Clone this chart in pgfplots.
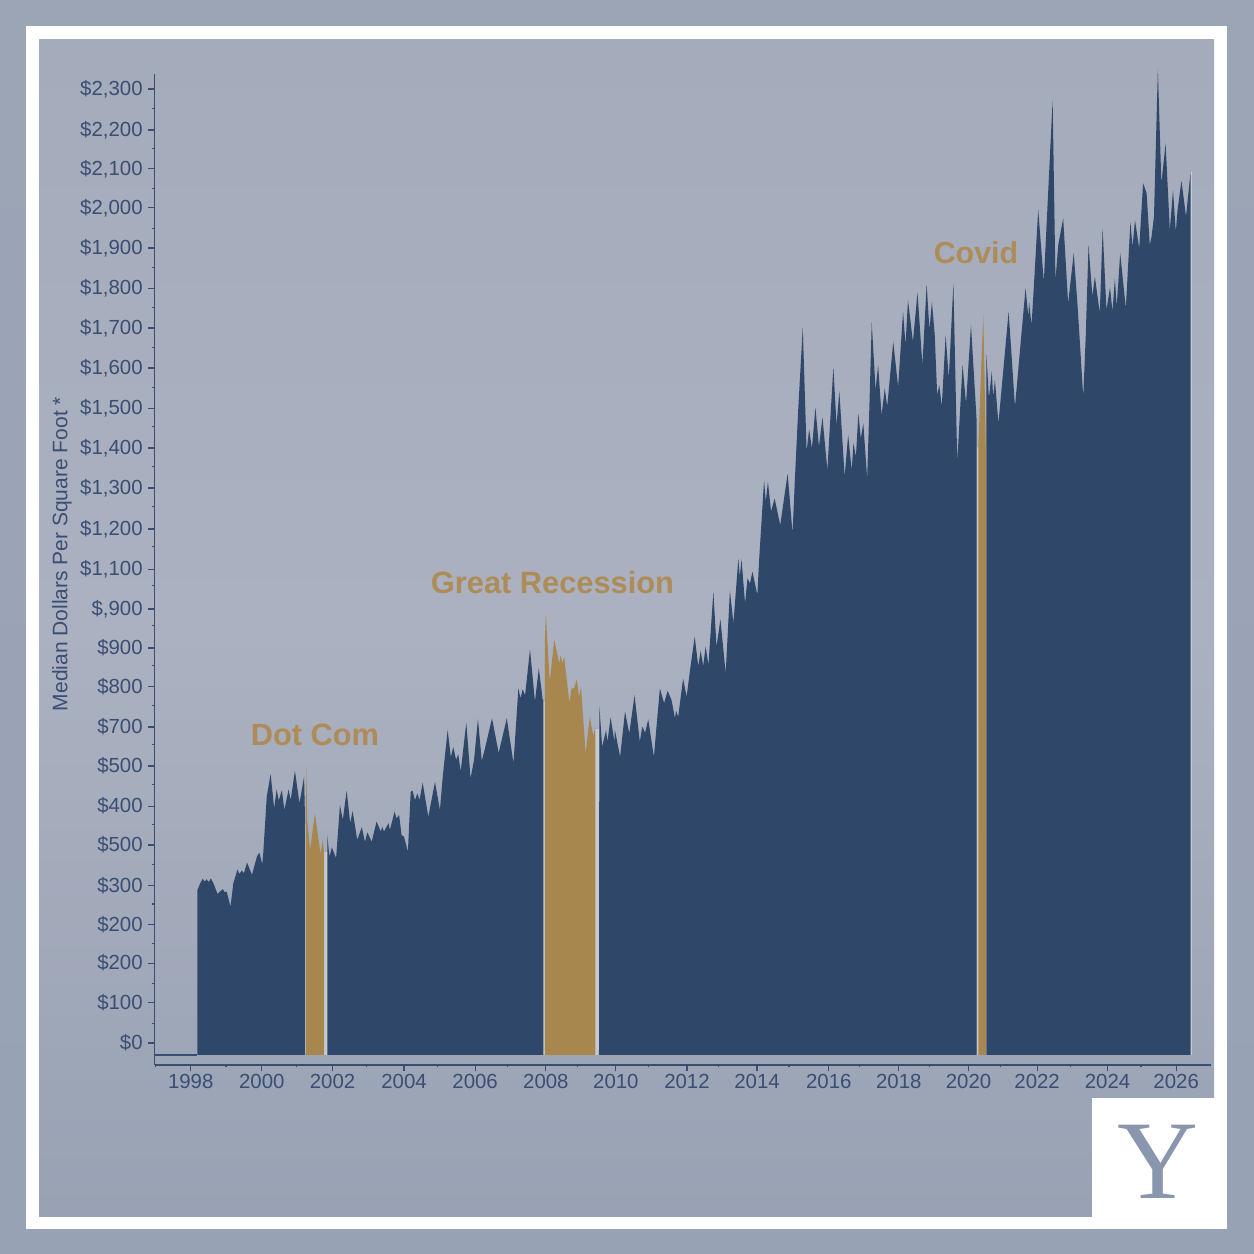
\documentclass[border=0pt]{standalone}
\usepackage{fontspec}
\setmainfont{Liberation Sans}
\newfontfamily\serifY{Liberation Serif}
\usepackage{pgfplots}
\pgfplotsset{compat=1.18}
\definecolor{navyc}{HTML}{2F4769}
\definecolor{goldc}{HTML}{A8874F}
\definecolor{annot}{HTML}{AE8C58}
\definecolor{txtc}{HTML}{3A4E73}
\definecolor{sliver}{HTML}{C6CAD2}
\definecolor{outerA}{HTML}{9CA5B6}
\definecolor{outerB}{HTML}{97A2B5}
\definecolor{panelA}{HTML}{A4ABBA}
\definecolor{panelB}{HTML}{ABB1C0}
\definecolor{panelC}{HTML}{98A2B4}
\definecolor{logoc}{HTML}{8A96AD}
\begin{document}
\begin{tikzpicture}
\begin{scope}[x=0.5pt,y=-0.5pt]
\path[use as bounding box] (0,0) rectangle (1254,1254);
\shade[top color=outerA,bottom color=outerB] (0,0) rectangle (1254,1254);
\fill[white] (26,26) rectangle (1227,1229);
\shade[top color=panelA,bottom color=panelC,middle color=panelB] (39,39) rectangle (1214,1216);
\fill[white] (1091.7,1098) rectangle (1227,1229);
\end{scope}
\begin{axis}[
  at={(77.25pt,-532.5pt)},anchor=south west,
  scale only axis,width=528.25pt,height=495.5pt,
  xmin=1996.97,xmax=2026.99,ymin=-55.3,ymax=2437.7,
  axis lines=left,axis line style={-,txtc,line width=0.75pt},
  clip=false,
  tick align=outside,
  tick style={txtc,line width=0.6pt},
  major tick length=3.2pt,minor tick length=1.2pt,
  xtick={1998,2000.02,2002.03,2004.06,2006.08,2008.09,2010.08,2012.10,2014.09,2016.13,2018.12,2020.10,2022.05,2024.05,2026},
  xticklabels={1998,2000,2002,2004,2006,2008,2010,2012,2014,2016,2018,2020,2022,2024,2026},
  minor xtick={1997,1999,2001,2003,2005,2007,2009,2011,2013,2015,2017,2019,2021,2023,2025},
  ytick={0,101,201,299,397,498,596,697,795,896,994,1092,1192,1293,1396,1497,1597,1698,1799,1899,2000,2101,2199,2297,2400},
  yticklabels={\$0,\$100,\$200,\$200,\$300,\$500,\$400,\$500,\$700,\$800,\$900,{\$,900},{\$1,100},{\$1,200},{\$1,300},{\$1,400},{\$1,500},{\$1,600},{\$1,700},{\$1,800},{\$1,900},{\$2,000},{\$2,100},{\$2,200},{\$2,300}},
  minor ytick={50,150,...,2350},
  tick label style={font=\fontsize{10.2}{12}\selectfont,text=txtc},
  yticklabel style={xshift=0.8pt},
  xticklabel style={yshift=2pt},
  ylabel={Median Dollars Per Square Foot *},
  ylabel style={at={(rel axis cs:-0.0875,0.5156)},anchor=center,rotate=0,font=\fontsize{10.5}{12}\selectfont,text=txtc},
]
% pale slivers beside the shaded bands
\addplot[fill=sliver,draw=none] coordinates {(2001.22,-30)(2001.22,550)(2001.29,550)(2001.29,-30)} --cycle;
\addplot[fill=sliver,draw=none] coordinates {(2001.78,-30)(2001.78,480)(2001.89,480)(2001.89,-30)} --cycle;
\addplot[fill=sliver,draw=none] coordinates {(2008.00,-30)(2008.00,860)(2008.07,860)(2008.07,-30)} --cycle;
\addplot[fill=sliver,draw=none] coordinates {(2009.49,-30)(2009.49,790)(2009.61,790)(2009.61,-30)} --cycle;
\addplot[fill=sliver,draw=none] coordinates {(2020.33,-30)(2020.33,1500)(2020.62,1500)(2020.62,-30)} --cycle;
\addplot[fill=sliver,draw=none] coordinates {(2026.40,-30)(2026.40,2190)(2026.46,2190)(2026.46,-30)} --cycle;
% baseline before the series
\addplot[txtc,line width=0.6pt] coordinates {(1996.97,-30)(1998.19,-30)};
% series, 1998 - 2001
\addplot[fill=navyc,draw=none] coordinates {
(1998.19,-30)(1998.19,385)(1998.27,402)(1998.34,413)(1998.40,406)(1998.45,412)(1998.51,405)(1998.57,414)(1998.64,403)
(1998.76,375)(1998.83,381)(1998.91,387)(1998.97,379)(1999.02,381)(1999.13,343)(1999.21,402)(1999.33,437)(1999.38,425)
(1999.45,434)(1999.51,427)(1999.60,454)(1999.74,423)(1999.88,469)(1999.95,479)(2000.03,450)(2000.06,477)(2000.16,620)
(2000.27,677)(2000.37,590)(2000.44,638)(2000.50,610)(2000.59,636)(2000.66,586)(2000.78,638)(2000.84,611)(2000.96,685)
(2001.09,603)(2001.22,670)(2001.25,553)(2001.25,-30)} --cycle;
% Dot Com
\addplot[fill=goldc,draw=none] coordinates {
(2001.27,-30)(2001.27,600)(2001.28,699)(2001.31,561)(2001.39,486)(2001.53,578)(2001.63,511)(2001.69,477)(2001.75,511)(2001.79,477)(2001.79,-30)} --cycle;
% series, 2001 - 2008
\addplot[fill=navyc,draw=none] coordinates {
(2001.88,-30)(2001.88,523)(2001.94,469)(2002.01,492)(2002.13,465)(2002.24,599)(2002.32,561)(2002.43,635)(2002.53,553)
(2002.60,584)(2002.73,511)(2002.86,543)(2002.95,506)(2003.02,530)(2003.14,506)(2003.28,557)(2003.40,532)(2003.44,544)
(2003.49,532)(2003.62,553)(2003.66,536)(2003.79,582)(2003.85,565)(2003.92,574)(2003.99,523)(2004.06,519)(2004.17,481)
(2004.25,632)(2004.30,635)(2004.37,611)(2004.44,628)(2004.50,611)(2004.59,655)(2004.75,569)(2004.94,657)(2005.08,586)
(2005.16,670)(2005.30,787)(2005.39,720)(2005.46,744)(2005.54,712)(2005.60,727)(2005.67,683)(2005.83,806)(2005.95,666)
(2006.05,712)(2006.16,815)(2006.27,710)(2006.36,741)(2006.56,817)(2006.75,730)(2006.98,817)(2007.17,704)(2007.31,892)
(2007.37,867)(2007.43,890)(2007.50,875)(2007.64,990)(2007.78,859)(2007.89,943)(2008.00,863)(2008.02,863)(2008.02,-30)} --cycle;
% Great Recession
\addplot[fill=goldc,draw=none] coordinates {
(2008.06,-30)(2008.06,1005)(2008.09,1079)(2008.20,909)(2008.33,1014)(2008.47,955)(2008.51,976)(2008.56,955)(2008.61,972)
(2008.76,855)(2008.82,892)(2008.89,892)(2008.97,915)(2009.03,871)(2009.09,895)(2009.22,729)(2009.34,821)(2009.44,771)
(2009.50,796)(2009.50,-30)} --cycle;
% series, 2009 - 2020
\addplot[fill=navyc,draw=none] coordinates {
(2009.60,-30)(2009.61,848)(2009.69,745)(2009.80,787)(2009.84,758)(2009.93,819)(2010.04,758)(2010.05,789)(2010.20,720)
(2010.34,834)(2010.46,779)(2010.61,875)(2010.76,758)(2010.83,796)(2010.91,781)(2011.00,814)(2011.16,720)(2011.33,892)
(2011.45,855)(2011.55,886)(2011.66,863)(2011.76,817)(2011.79,836)(2011.85,821)(2011.99,917)(2012.09,871)(2012.20,947)
(2012.32,1022)(2012.42,948)(2012.49,987)(2012.56,948)(2012.63,997)(2012.71,951)(2012.85,1135)(2012.94,997)(2013.05,1066)
(2013.20,930)(2013.32,1138)(2013.42,1056)(2013.56,1219)(2013.60,1173)(2013.65,1217)(2013.75,1106)(2013.82,1169)(2013.89,1156)
(2013.96,1186)(2014.10,1127)(2014.15,1215)(2014.29,1415)(2014.34,1362)(2014.40,1412)(2014.49,1337)(2014.59,1370)(2014.75,1303)
(2014.96,1433)(2015.10,1282)(2015.17,1425)(2015.26,1592)(2015.39,1800)(2015.50,1488)(2015.57,1544)(2015.65,1496)(2015.75,1599)
(2015.85,1500)(2015.95,1574)(2016.09,1441)(2016.16,1551)(2016.26,1700)(2016.35,1555)(2016.43,1640)(2016.58,1425)(2016.68,1530)
(2016.78,1441)(2016.83,1509)(2016.90,1475)(2016.97,1584)(2017.04,1521)(2017.11,1559)(2017.22,1421)(2017.28,1592)(2017.35,1812)
(2017.46,1643)(2017.53,1706)(2017.63,1580)(2017.72,1647)(2017.79,1601)(2017.96,1764)(2018.10,1651)(2018.24,1840)(2018.31,1756)
(2018.38,1869)(2018.52,1764)(2018.65,1888)(2018.79,1706)(2018.91,1909)(2018.99,1794)(2019.06,1865)(2019.14,1781)(2019.21,1630)
(2019.27,1655)(2019.34,1601)(2019.45,1781)(2019.54,1672)(2019.67,1911)(2019.78,1462)(2019.93,1706)(2020.03,1609)(2020.17,1806)
(2020.33,1567)(2020.33,-30)} --cycle;
% Covid
\addplot[fill=goldc,draw=none] coordinates {
(2020.38,-30)(2020.38,1500)(2020.46,1700)(2020.52,1830)(2020.55,1700)(2020.59,1500)(2020.59,-30)} --cycle;
% series, 2020 - 2026
\addplot[fill=navyc,draw=none] coordinates {
(2020.61,-30)(2020.61,1731)(2020.68,1622)(2020.76,1689)(2020.80,1626)(2020.85,1668)(2020.95,1559)(2021.24,1840)(2021.42,1601)
(2021.72,1899)(2021.80,1827)(2021.82,1865)(2021.89,1806)(2021.94,1878)(2022.08,2096)(2022.24,1915)(2022.49,2372)(2022.57,1919)
(2022.65,2008)(2022.79,2075)(2022.93,1861)(2023.09,1987)(2023.20,1853)(2023.36,1626)(2023.43,1777)(2023.51,2008)(2023.62,1878)
(2023.69,1928)(2023.83,1836)(2023.91,2049)(2024.02,1844)(2024.12,1901)(2024.19,1840)(2024.26,1924)(2024.31,1853)(2024.41,1987)
(2024.57,1848)(2024.70,2066)(2024.76,2003)(2024.83,2070)(2024.95,1999)(2025.06,2163)(2025.16,2138)(2025.25,2008)(2025.30,2028)
(2025.37,2079)(2025.48,2449)(2025.58,2163)(2025.70,2263)(2025.82,2045)(2025.91,2146)(2025.99,2041)(2026.04,2096)(2026.15,2169)
(2026.28,2079)(2026.41,2192)(2026.41,-30)} --cycle;
\end{axis}
\begin{scope}[x=0.5pt,y=-0.5pt]
\node[text=annot,font=\fontsize{15.4}{18}\selectfont\bfseries] at (315,734.5) {Dot Com};
\node[text=annot,font=\fontsize{15.4}{18}\selectfont\bfseries] at (552.5,582.5) {Great Recession};
\node[text=annot,font=\fontsize{15.2}{18}\selectfont\bfseries] at (976,253) {Covid};
\node[text=logoc,font=\serifY\fontsize{56}{56}\selectfont] at (1157.5,1162) {Y};
\end{scope}
\end{tikzpicture}
\end{document}
